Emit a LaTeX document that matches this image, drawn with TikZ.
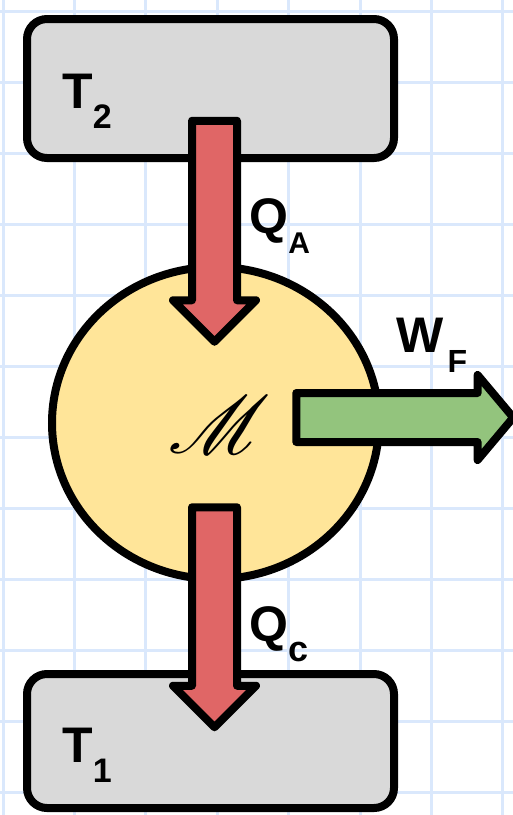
\documentclass[tikz,border=0pt]{standalone}
\usepackage{fontspec}
\setmainfont{Liberation Sans}
\usepackage{mathrsfs}
\usetikzlibrary{shapes.geometric,shapes.arrows}

\definecolor{gridblue}{HTML}{DAE8FC}
\definecolor{boxgray}{HTML}{D9D9D9}
\definecolor{heatred}{HTML}{E06666}
\definecolor{engineyellow}{HTML}{FFE599}
\definecolor{workgreen}{HTML}{93C47D}

% ตัวห้อยแบบเลื่อนลง
\newcommand{\lowsub}[2]{\raisebox{-10pt}{\fontsize{#1}{#1}\selectfont #2}}

\tikzset{
  reservoir/.style={draw=black, fill=boxgray, line width=4pt, rounded corners=10pt,
    inner sep=0pt, minimum width=183.5pt},
  engine/.style={ellipse, draw=black, fill=engineyellow, line width=4pt, inner sep=0pt,
    minimum width=163.5pt, minimum height=156pt},
  flow/.style={single arrow, draw=black, line width=4pt, line join=round,
    inner xsep=0pt, inner ysep=9.25pt,
    single arrow head extend=9.5pt, single arrow tip angle=90},
  heatlabel/.style={anchor=base west, inner sep=0pt, font=\fontsize{25}{25}\selectfont\bfseries},
}

\begin{document}
\begin{tikzpicture}[x=0.5pt, y=-0.5pt]
  \useasboundingbox (0,0) rectangle (513,815);

  % พื้นหลังตาราง
  \foreach \gx in {0,...,7}
    \draw[gridblue, line width=1.5pt] ({3+71.4*\gx},0) -- ({3+71.4*\gx},815);
  \foreach \gy in {0,...,11}
    \draw[gridblue, line width=1.5pt] (0,{11+71*\gy}) -- (513,{11+71*\gy});

  % แหล่งร้อน แหล่งเย็น และเครื่องจักร
  \node[reservoir, minimum height=69.5pt] (hot) at (210.5,88.5) {};
  \node[reservoir, minimum height=67pt] (cold) at (210.5,741) {};
  \node[engine] (machine) at (215.5,423) {};

  % ลูกศรความร้อนและงาน
  \node[flow, fill=heatred, rotate=-90, minimum height=110.5pt] (qa) at (214.5,220) {};
  \node[flow, fill=heatred, rotate=-90, minimum height=110pt] (qc) at (214.5,606) {};
  \node[flow, fill=workgreen, inner ysep=10.25pt, minimum height=108.5pt,
    single arrow head extend=9pt, single arrow tip angle=100] (wf) at (394.5,417.5) {};

  % ป้ายชื่อ
  \node[heatlabel] (t2) at (62,108) {T\lowsub{17}{2}};
  \node[heatlabel] (qalbl) at (249,233) {Q\lowsub{15}{A}};
  \node[heatlabel] (wflbl) at (396,352) {W\kern2pt\lowsub{16}{F}};
  \node[heatlabel] (qclbl) at (249,641) {Q\lowsub{18}{c}};
  \node[heatlabel] (t1) at (62,762) {T\lowsub{17}{1}};
  \node[scale=1.65] (mlbl) at (219.5,425) {\fontsize{24.88}{24.88}\selectfont$\mathscr{M}$};
\end{tikzpicture}
\end{document}
